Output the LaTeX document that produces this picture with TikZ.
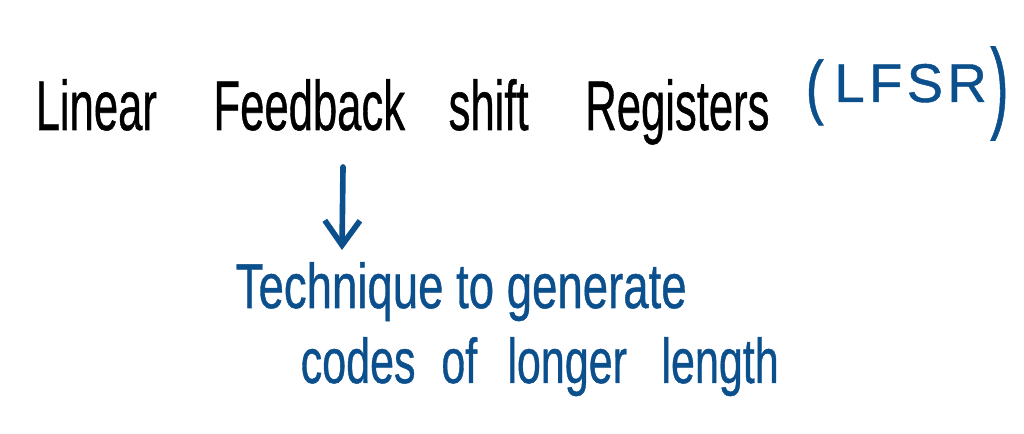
\documentclass[tikz,border=0pt]{standalone}
\usepackage{fontspec}
\setmainfont{Liberation Sans}
\usetikzlibrary{arrows.meta}
\definecolor{ink}{HTML}{0B4F8C}
\tikzset{
  txt/.style={inner sep=0pt, anchor=base west},
  title/.style={txt, font=\fontsize{20}{24}\selectfont\addfontfeature{FakeBold=0.8}, text=black},
  note/.style={txt, font=\fontsize{18}{22}\selectfont\addfontfeature{FakeBold=0.8}, text=ink},
  abbr/.style={txt, font=\fontsize{15.5}{18}\selectfont\addfontfeature{LetterSpace=8,FakeBold=0.8}, text=ink},
  arr/.style={draw=ink, line width=1.6pt, line cap=round, -{Straight Barb[length=7pt,width=10pt,line width=1.6pt]}}
}
\begin{document}
\begin{tikzpicture}[x=0.01cm,y=-0.01cm]
\useasboundingbox (0,0) rectangle (1024,434);
\node[title] (t) at (35,130) {\scalebox{0.62}[1]{Linear\hspace{1.3em}Feedback\hspace{1em}shift\hspace{1.3em}Registers}};
\node[abbr] (l) at (805,102) {\raisebox{-2.5pt}{\scalebox{1}[1.3]{(}}\hspace{3pt}LFSR\hspace{1pt}\raisebox{-5pt}{\scalebox{1}[1.85]{)}}};
\coordinate (a1) at (343,167);
\coordinate (a2) at (342,250);
\draw[arr] (a1) -- (a2);
\node[note] (n1) at (235,308) {\scalebox{0.72}[1]{Technique to generate}};
\node[note] (n2) at (300,383) {\scalebox{0.68}[1]{codes\hspace{0.6em}of\hspace{0.7em}longer\hspace{0.8em}length}};
\end{tikzpicture}
\end{document}
